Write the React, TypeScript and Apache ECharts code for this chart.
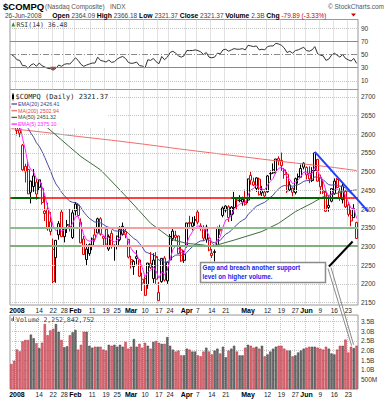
import React, { useEffect, useRef } from 'react';
import * as echarts from 'echarts';

const FONT = 'Liberation Sans, Arial, sans-serif';
const MONO = 'DejaVu Sans Mono, monospace';

const dates = [
  '2007-12-28', '2007-12-31',
  '2008-01-02', '2008-01-03', '2008-01-04', '2008-01-07', '2008-01-08', '2008-01-09', '2008-01-10', '2008-01-11', '2008-01-14', '2008-01-15', '2008-01-16', '2008-01-17', '2008-01-18', '2008-01-22', '2008-01-23', '2008-01-24', '2008-01-25', '2008-01-28', '2008-01-29', '2008-01-30', '2008-01-31',
  '2008-02-01', '2008-02-04', '2008-02-05', '2008-02-06', '2008-02-07', '2008-02-08', '2008-02-11', '2008-02-12', '2008-02-13', '2008-02-14', '2008-02-15', '2008-02-19', '2008-02-20', '2008-02-21', '2008-02-22', '2008-02-25', '2008-02-26', '2008-02-27', '2008-02-28', '2008-02-29',
  '2008-03-03', '2008-03-04', '2008-03-05', '2008-03-06', '2008-03-07', '2008-03-10', '2008-03-11', '2008-03-12', '2008-03-13', '2008-03-14', '2008-03-17', '2008-03-18', '2008-03-19', '2008-03-20', '2008-03-24', '2008-03-25', '2008-03-26', '2008-03-27', '2008-03-28', '2008-03-31',
  '2008-04-01', '2008-04-02', '2008-04-03', '2008-04-04', '2008-04-07', '2008-04-08', '2008-04-09', '2008-04-10', '2008-04-11', '2008-04-14', '2008-04-15', '2008-04-16', '2008-04-17', '2008-04-18', '2008-04-21', '2008-04-22', '2008-04-23', '2008-04-24', '2008-04-25', '2008-04-28', '2008-04-29', '2008-04-30',
  '2008-05-01', '2008-05-02', '2008-05-05', '2008-05-06', '2008-05-07', '2008-05-08', '2008-05-09', '2008-05-12', '2008-05-13', '2008-05-14', '2008-05-15', '2008-05-16', '2008-05-19', '2008-05-20', '2008-05-21', '2008-05-22', '2008-05-23', '2008-05-27', '2008-05-28', '2008-05-29', '2008-05-30',
  '2008-06-02', '2008-06-03', '2008-06-04', '2008-06-05', '2008-06-06', '2008-06-09', '2008-06-10', '2008-06-11', '2008-06-12', '2008-06-13', '2008-06-16', '2008-06-17', '2008-06-18', '2008-06-19', '2008-06-20', '2008-06-23', '2008-06-24', '2008-06-25', '2008-06-26',
];

const opens = [
  2671, 2664, 2653, 2611, 2571, 2514, 2506, 2445, 2460, 2472,
  2458, 2455, 2388, 2400, 2366, 2206, 2270, 2331, 2392, 2326,
  2357, 2353, 2324, 2395, 2410, 2365, 2320, 2265, 2281, 2303,
  2331, 2336, 2374, 2327, 2346, 2293, 2335, 2300, 2302, 2318,
  2332, 2340, 2319, 2265, 2246, 2268, 2264, 2202, 2214, 2197,
  2255, 2214, 2273, 2155, 2206, 2269, 2208, 2264, 2321, 2330,
  2328, 2291, 2263, 2300, 2364, 2354, 2371, 2392, 2355, 2351,
  2319, 2322, 2282, 2284, 2301, 2345, 2383, 2397, 2406, 2384,
  2404, 2425, 2422, 2419, 2430, 2424, 2490, 2473, 2455, 2480,
  2443, 2435, 2446, 2494, 2505, 2499, 2535, 2530, 2505, 2493,
  2451, 2456, 2444, 2486, 2485, 2512, 2511, 2496, 2476, 2503,
  2533, 2485, 2445, 2445, 2410, 2421, 2441, 2479, 2449, 2425,
  2450, 2411, 2383, 2377, 2364.09,
];
const highs = [
  2684, 2671, 2661, 2624, 2574, 2521, 2530, 2476, 2507, 2480,
  2480, 2470, 2436, 2417, 2392, 2321, 2317, 2368, 2398, 2350,
  2371, 2400, 2397, 2419, 2415, 2375, 2328, 2307, 2308, 2324,
  2348, 2377, 2378, 2327, 2347, 2332, 2343, 2305, 2329, 2354,
  2364, 2348, 2320, 2275, 2264, 2290, 2265, 2230, 2220, 2256,
  2285, 2282, 2285, 2205, 2269, 2274, 2259, 2333, 2347, 2342,
  2329, 2300, 2289, 2363, 2382, 2379, 2381, 2397, 2362, 2357,
  2358, 2324, 2293, 2292, 2353, 2358, 2407, 2410, 2410, 2408,
  2446, 2429, 2437, 2433, 2452, 2481, 2501, 2484, 2485, 2484,
  2462, 2452, 2491, 2503, 2522, 2534, 2541, 2551, 2510, 2502,
  2474, 2458, 2484, 2495, 2519, 2525, 2514, 2514, 2512, 2552,
  2534, 2492, 2479, 2449, 2436, 2455, 2482, 2483, 2456, 2470,
  2450, 2416, 2398, 2413, 2366.18,
];
const lows = [
  2650, 2650, 2597, 2592, 2502, 2471, 2440, 2415, 2446, 2425,
  2448, 2412, 2368, 2342, 2330, 2202, 2203, 2318, 2325, 2311,
  2336, 2340, 2320, 2383, 2381, 2309, 2277, 2249, 2275, 2290,
  2313, 2336, 2329, 2299, 2302, 2288, 2294, 2262, 2292, 2314,
  2329, 2322, 2268, 2241, 2224, 2252, 2219, 2181, 2168, 2187,
  2240, 2202, 2200, 2155, 2203, 2206, 2200, 2264, 2315, 2314,
  2280, 2259, 2256, 2297, 2349, 2343, 2355, 2359, 2342, 2315,
  2310, 2287, 2269, 2260, 2301, 2331, 2378, 2391, 2366, 2368,
  2386, 2398, 2418, 2409, 2409, 2416, 2465, 2461, 2446, 2436,
  2435, 2431, 2444, 2478, 2494, 2494, 2517, 2502, 2481, 2443,
  2448, 2434, 2439, 2468, 2484, 2506, 2479, 2469, 2472, 2500,
  2474, 2440, 2440, 2393, 2393, 2418, 2438, 2456, 2422, 2415,
  2403, 2380, 2354, 2377, 2321.37,
];
const closes = [
  2674.46, 2652.28, 2609.63, 2602.68, 2504.65, 2499.46, 2440.51, 2474.55, 2488.52, 2439.94,
  2478.30, 2417.59, 2394.59, 2346.90, 2340.02, 2292.27, 2316.41, 2360.92, 2326.20, 2349.91,
  2358.06, 2349.00, 2389.86, 2413.36, 2382.85, 2309.57, 2278.75, 2293.03, 2304.85, 2320.06,
  2320.04, 2373.93, 2332.54, 2321.80, 2306.20, 2327.10, 2299.78, 2303.35, 2327.48, 2344.99,
  2353.78, 2331.57, 2271.48, 2258.60, 2260.28, 2272.81, 2220.50, 2212.49, 2169.34, 2255.76,
  2243.87, 2263.61, 2212.49, 2177.01, 2268.26, 2209.96, 2258.11, 2326.75, 2341.05, 2324.36,
  2280.83, 2261.18, 2279.10, 2362.75, 2361.40, 2363.30, 2370.98, 2364.83, 2348.76, 2322.12,
  2351.70, 2290.24, 2275.82, 2286.04, 2350.11, 2341.83, 2402.97, 2408.04, 2376.94, 2405.21,
  2428.92, 2422.93, 2424.40, 2426.11, 2412.80, 2480.71, 2476.99, 2464.10, 2483.31, 2438.49,
  2451.24, 2445.52, 2488.49, 2495.12, 2496.70, 2533.73, 2528.85, 2516.09, 2492.26, 2448.27,
  2464.58, 2444.67, 2481.24, 2486.70, 2508.32, 2522.66, 2491.53, 2480.48, 2503.14, 2549.94,
  2474.56, 2459.46, 2448.94, 2394.01, 2404.35, 2454.50, 2474.78, 2457.73, 2429.71, 2462.07,
  2406.09, 2385.74, 2368.28, 2401.26, 2321.37,
];
const prevClose = 2676.79;

// volume in billions of shares
const volumes = [
  1.30, 1.47, 2.06, 1.96, 2.48, 2.55, 2.55, 2.83, 2.64, 2.38,
  2.13, 2.41, 3.38, 2.80, 3.05, 3.13, 3.38, 2.98, 2.55, 2.17,
  2.22, 2.80, 2.95, 3.07, 2.05, 2.30, 2.98, 2.98, 2.25, 2.15,
  2.20, 2.20, 2.20, 2.05, 2.00, 2.30, 2.25, 2.30, 2.20, 2.30,
  2.20, 2.45, 2.10, 2.20, 2.60, 2.20, 2.35, 2.15, 2.40, 2.25,
  2.10, 2.45, 2.50, 2.40, 2.35, 2.35, 2.70, 2.25, 2.05, 1.95,
  2.00, 1.75, 1.75, 2.10, 2.05, 1.95, 1.95, 1.75, 1.70, 1.95,
  2.15, 1.95, 1.80, 2.00, 2.10, 1.85, 2.20, 1.65, 2.00, 2.10,
  2.25, 1.95, 1.75, 1.75, 2.15, 2.30, 2.25, 2.15, 2.20, 2.10,
  2.25, 1.70, 1.80, 1.95, 2.10, 2.20, 2.25, 2.25, 2.10, 2.00,
  2.00, 1.70, 1.75, 1.90, 2.00, 2.10, 2.15, 2.20, 2.20, 2.20,
  2.15, 2.10, 2.05, 2.20, 2.10, 1.85, 1.80, 2.05, 2.25, 2.25,
  2.57, 1.90, 2.20, 2.13, 2.2528,
];

const rsi14 = [
  50, 47, 42, 41, 33, 33, 29, 34, 36, 32,
  37, 33, 31, 29, 28.5, 26.5, 29, 34, 32, 35,
  36, 35.5, 40, 45, 41, 35, 32, 34, 35.5, 37,
  37, 46, 41, 40, 38.5, 41.5, 38, 39, 43, 45.5,
  47, 44, 38, 36.5, 37, 38.5, 33, 32.5, 29.5, 42,
  41, 44, 39, 36, 47, 42, 46, 53, 55, 52,
  48, 46, 48, 56, 56, 56, 57, 56, 54, 50,
  53, 46, 45, 46, 52, 51, 57, 58, 55, 57,
  59, 58, 58, 59, 57, 64, 63, 62, 63, 57,
  58, 57, 62, 63, 63, 67, 66, 64, 60, 53,
  55, 52, 56, 57, 59, 61, 56, 55, 57, 62,
  51, 49, 48, 41, 43, 49, 52, 49, 46, 50,
  44, 42, 40, 44, 36.48,
];

const ema5 = [
  2670, 2664, 2646, 2632, 2589, 2559, 2520, 2505, 2499, 2480,
  2479, 2459, 2437, 2407, 2385, 2354, 2342, 2348, 2341, 2344,
  2349, 2349, 2362, 2379, 2381, 2357, 2331, 2318, 2314, 2316,
  2317, 2336, 2335, 2331, 2322, 2324, 2316, 2312, 2317, 2326,
  2336, 2334, 2313, 2295, 2284, 2280, 2260, 2244, 2219, 2231,
  2236, 2245, 2234, 2215, 2233, 2225, 2236, 2266, 2291, 2302,
  2295, 2284, 2282, 2309, 2327, 2339, 2350, 2355, 2353, 2343,
  2346, 2327, 2310, 2302, 2318, 2326, 2352, 2371, 2373, 2384,
  2399, 2407, 2413, 2417, 2416, 2437, 2451, 2455, 2465, 2456,
  2454, 2451, 2464, 2474, 2482, 2499, 2509, 2511, 2505, 2486,
  2479, 2468, 2472, 2477, 2487, 2499, 2497, 2491, 2495, 2513,
  2501, 2487, 2474, 2448, 2433, 2440, 2452, 2454, 2446, 2451,
  2436, 2419, 2402, 2402, 2375.10,
];

const ema20 = [
  2680, 2677, 2671, 2664, 2649, 2635, 2616, 2603, 2592, 2577,
  2568, 2554, 2538, 2520, 2503, 2483, 2467, 2457, 2445, 2436,
  2428, 2421, 2418, 2417, 2414, 2404, 2392, 2383, 2375, 2370,
  2365, 2366, 2363, 2359, 2354, 2351, 2347, 2342, 2341, 2341,
  2343, 2342, 2335, 2328, 2321, 2317, 2308, 2299, 2286, 2283,
  2280, 2278, 2272, 2263, 2263, 2258, 2258, 2265, 2272, 2277,
  2277, 2276, 2276, 2284, 2292, 2299, 2305, 2311, 2315, 2315,
  2319, 2316, 2312, 2310, 2314, 2316, 2325, 2333, 2337, 2343,
  2351, 2358, 2365, 2370, 2374, 2385, 2393, 2400, 2408, 2411,
  2415, 2418, 2424, 2431, 2437, 2447, 2454, 2460, 2463, 2462,
  2462, 2461, 2463, 2465, 2469, 2474, 2476, 2476, 2479, 2486,
  2485, 2482, 2479, 2471, 2465, 2464, 2465, 2464, 2461, 2461,
  2456, 2449, 2441, 2438, 2426.41,
];

const ma50Dates = ['2007-12-28', '2008-01-08', '2008-01-17', '2008-01-29', '2008-02-05', '2008-02-14', '2008-02-26', '2008-03-04', '2008-03-12', '2008-03-18', '2008-03-25', '2008-04-01', '2008-04-08', '2008-04-14', '2008-04-24', '2008-05-08', '2008-05-16', '2008-05-27', '2008-06-04', '2008-06-10', '2008-06-19', '2008-06-26'];
const ma50Values = [2684, 2655, 2617, 2572, 2540, 2505, 2451, 2411, 2362, 2340, 2318, 2308, 2305, 2300, 2317, 2340, 2362, 2393, 2416, 2433, 2446, 2451.32];

const ma200Dates = ['2007-12-28', '2008-01-16', '2008-02-04', '2008-02-21', '2008-03-10', '2008-03-27', '2008-04-14', '2008-04-30', '2008-05-16', '2008-06-04', '2008-06-16', '2008-06-26'];
const ma200Values = [2615, 2605, 2594, 2584, 2573, 2561, 2550, 2539, 2528, 2518, 2511, 2502.94];

const labelDates = ['2008-01-02', '2008-01-14', '2008-01-22', '2008-01-28', '2008-02-01', '2008-02-11', '2008-02-19', '2008-02-25', '2008-03-03', '2008-03-10', '2008-03-17', '2008-03-24', '2008-04-01', '2008-04-07', '2008-04-14', '2008-04-21', '2008-05-01', '2008-05-12', '2008-05-19', '2008-05-27', '2008-06-02', '2008-06-09', '2008-06-16', '2008-06-23'];
const labelTexts = ['2008', '14', '22', '28', 'Feb', '11', '19', '25', 'Mar', '10', '17', '24', 'Apr', '7', '14', '21', 'May', '12', '19', '27', 'Jun', '9', '16', '23'];
const boldLabels = ['2008', 'Feb', 'Mar', 'Apr', 'May', 'Jun'];

const priceTicks = [2150, 2200, 2250, 2300, 2350, 2400, 2450, 2500, 2550, 2600, 2650, 2700];
const rsiTicks = [10, 30, 50, 70, 90];

const resistanceLevel = 2430;
const supportMid = 2351;
const supportLow = 2302;
const greenSegments = [['2007-12-28', '2008-01-14'], ['2008-04-23', '2008-06-19']];
const pinkMidSegment = ['2008-02-04', '2008-04-16'];
const pinkLowSegment = ['2008-02-05', '2008-03-24'];
const trendStart: [string, number] = ['2008-06-05', 2553];
const trendEnd: [string, number] = ['2008-06-26', 2428];

function sparse(ds: string[], vs: number[]) {
  const m = new Map(ds.map((d, i) => [d, vs[i]]));
  return dates.map((d) => (m.has(d) ? m.get(d)! : null));
}

export default function App() {
  const ref = useRef<HTMLDivElement>(null);
  useEffect(() => {
    const el = ref.current!;
    const chart = echarts.init(el, null, { renderer: 'svg' });
    const labelMap = new Map(labelDates.map((d, j) => [d, labelTexts[j]]));

    const xAxis = (g: number, show: boolean) => ({
      type: 'category', gridIndex: g, data: dates, boundaryGap: true,
      axisLine: { show: false }, axisTick: { show: false },
      axisLabel: show ? {
        show: true, hideOverlap: false,
        interval: (_i: number, v: string) => labelMap.has(v),
        formatter: (v: string) => {
          const t = labelMap.get(v) || '';
          return boldLabels.includes(t) ? `{b|${t}}` : t;
        },
        fontSize: 6.5, color: '#222', margin: 2, fontFamily: FONT,
        rich: { b: { fontWeight: 'bold', fontSize: 7, color: '#000', fontFamily: FONT } },
      } : { show: false },
      splitLine: { show: true, interval: (_i: number, v: string) => labelMap.has(v), lineStyle: { type: 'dotted', color: '#c4c4c4', width: 1 } },
    });

    const tickLabel = { show: true, position: 'end', distance: 3, color: '#333', fontSize: 6.5, fontFamily: FONT };
    const dotted = { type: 'dotted', color: '#c4c4c4', width: 1 };

    const candleData = dates.map((_d, i) => {
      const prev = i === 0 ? prevClose : closes[i - 1];
      const col = closes[i] >= prev ? '#000000' : '#dd0000';
      return { value: [opens[i], closes[i], lows[i], highs[i]], itemStyle: { color: '#ffffff', color0: col, borderColor: col, borderColor0: col, borderWidth: 1 } };
    });
    const volData = dates.map((_d, i) => {
      const prev = i === 0 ? prevClose : closes[i - 1];
      const up = closes[i] >= prev;
      return { value: volumes[i], itemStyle: { color: up ? '#6e6e6e' : '#d5707a', borderColor: up ? '#3c3c3c' : '#c02030', borderWidth: 0.5 } };
    });
    const nulls = dates.map(() => null);

    const seg = (a: string[], level: number, color: string, width: number) => [
      { coord: [a[0], level], lineStyle: { color, width, type: 'solid' }, label: { show: false } },
      { coord: [a[1], level] },
    ];

    const option: any = {
      animation: false,
      backgroundColor: '#ffffff',
      textStyle: { fontFamily: FONT },
      grid: [
        { left: 10, width: 348, top: 19.5, height: 70, show: true, borderColor: '#999', borderWidth: 1, backgroundColor: 'transparent', containLabel: false, outerBoundsMode: 'none' },
        { left: 10, width: 348, top: 89.5, height: 215.5, show: true, borderColor: '#999', borderWidth: 1, backgroundColor: 'transparent', containLabel: false, outerBoundsMode: 'none' },
        { left: 10, width: 348, top: 315, height: 74, show: true, borderColor: '#999', borderWidth: 1, backgroundColor: 'transparent', containLabel: false, outerBoundsMode: 'none' },
      ],
      xAxis: [xAxis(0, false), xAxis(1, true), xAxis(2, true)],
      yAxis: [
        { type: 'value', gridIndex: 0, position: 'right', min: -3.2, max: 103.2, axisLabel: { show: false }, splitLine: { show: false }, axisLine: { show: false }, axisTick: { show: false } },
        { type: 'value', gridIndex: 1, position: 'right', min: 2143.5, max: 2719.6, axisLabel: { show: false }, splitLine: { show: false }, axisLine: { show: false }, axisTick: { show: false } },
        {
          type: 'value', gridIndex: 2, position: 'right', min: 0, max: 3.85, interval: 0.5,
          axisLine: { show: false }, axisTick: { show: false },
          axisLabel: {
            fontSize: 6.5, color: '#333', margin: 3, fontFamily: FONT,
            formatter: (v: number) => {
              if (v <= 0.01 || v > 3.6) return '';
              const r = Math.round(v * 2) / 2;
              if (Math.abs(r - v) > 0.01) return '';
              return r === 0.5 ? '500M' : r.toFixed(1) + 'B';
            },
          },
          splitLine: { show: true, lineStyle: dotted },
        },
      ],
      series: [
        {
          type: 'line', xAxisIndex: 0, yAxisIndex: 0, data: nulls, z: 1, silent: true, symbol: 'none',
          markLine: {
            silent: true, symbol: ['none', 'none'], animation: false,
            data: rsiTicks.map((v) => ({
              yAxis: v,
              lineStyle: v === 30 || v === 70 ? { type: 'solid', color: '#8a8a8a', width: 1 } : v === 50 ? { type: [6, 2, 1, 2], color: '#8a8a8a', width: 1 } : dotted,
              label: { ...tickLabel, formatter: String(v) },
            })),
          },
        },
        {
          type: 'line', name: 'RSI(14)', xAxisIndex: 0, yAxisIndex: 0, data: rsi14, symbol: 'none', z: 3,
          lineStyle: { color: '#333333', width: 1 },
          markPoint: {
            silent: true, symbol: 'triangle', symbolRotate: 180, symbolSize: [6, 4], label: { show: false },
            itemStyle: { color: '#a04848' },
            data: [{ coord: [dates[15], 28.2] }],
          },
        },
        {
          type: 'line', xAxisIndex: 1, yAxisIndex: 1, data: nulls, z: 1, silent: true, symbol: 'none',
          markLine: {
            silent: true, symbol: ['none', 'none'], animation: false,
            data: priceTicks.map((v) => ({ yAxis: v, lineStyle: dotted, label: { ...tickLabel, formatter: String(v) } })),
          },
        },
        {
          type: 'candlestick', name: '$COMPQ', xAxisIndex: 1, yAxisIndex: 1, data: candleData, barWidth: 2.5, z: 2,
        },
        { type: 'line', name: 'MA(200)', xAxisIndex: 1, yAxisIndex: 1, data: sparse(ma200Dates, ma200Values), connectNulls: true, symbol: 'none', z: 3, lineStyle: { color: '#f26d6d', width: 1 } },
        { type: 'line', name: 'MA(50)', xAxisIndex: 1, yAxisIndex: 1, data: sparse(ma50Dates, ma50Values), connectNulls: true, symbol: 'none', z: 3, lineStyle: { color: '#3d6e3d', width: 1 } },
        { type: 'line', name: 'EMA(20)', xAxisIndex: 1, yAxisIndex: 1, data: ema20, symbol: 'none', z: 3, lineStyle: { color: '#4a4aa8', width: 1 } },
        { type: 'line', name: 'EMA(5)', xAxisIndex: 1, yAxisIndex: 1, data: ema5, symbol: 'none', z: 3, lineStyle: { color: '#ff22ff', width: 1 } },
        {
          type: 'line', xAxisIndex: 1, yAxisIndex: 1, data: nulls, z: 4, silent: true, symbol: 'none',
          markLine: {
            silent: true, symbol: ['none', 'none'], animation: false,
            data: [
              { yAxis: supportLow, lineStyle: { color: '#7fae7f', width: 2, type: 'solid' }, label: { show: false } },
              { yAxis: supportMid, lineStyle: { color: '#8dbb8d', width: 2, type: 'solid' }, label: { show: false } },
              { yAxis: resistanceLevel, lineStyle: { color: '#ff0000', width: 1.5, type: 'solid' }, label: { show: false } },
              seg(pinkMidSegment, supportMid, '#f4a0a0', 2),
              seg(pinkLowSegment, supportLow, '#f4a0a0', 2),
              ...greenSegments.map((s) => seg(s, resistanceLevel, '#006600', 2)),
            ],
          },
        },
        { type: 'bar', name: 'Volume', xAxisIndex: 2, yAxisIndex: 2, data: volData, barWidth: 2.3, z: 2 },
      ],
    };
    chart.setOption(option);

    const px = (g: number, d: string, v: number) => chart.convertToPixel({ gridIndex: g } as any, [d, v]) as number[];
    const a = px(1, trendStart[0], trendStart[1]);
    const b = px(1, trendEnd[0], trendEnd[1]);
    const ext = 1.28;
    const tEnd = [a[0] + (b[0] - a[0]) * ext, a[1] + (b[1] - a[1]) * ext];
    const candleTip = px(1, dates[dates.length - 1], lows[lows.length - 1]);
    const volTip = px(2, dates[dates.length - 1], volumes[volumes.length - 1]);

    const txt = (x: number, y: number, text: string, o: any = {}) => ({
      type: 'text', x, y, z: 60, silent: true,
      style: { text, fontSize: 6.5, fontFamily: FONT, fill: '#333', verticalAlign: 'middle', ...o },
    });
    const ln = (x1: number, y1: number, x2: number, y2: number, stroke: string, lineWidth: number) => ({
      type: 'line', z: 60, silent: true, shape: { x1, y1, x2, y2 }, style: { stroke, lineWidth },
    });

    const graphics: any[] = [
      txt(3, 6, '$COMPQ', { fontSize: 9.5, fontWeight: 'bold', fill: '#000' }),
      txt(45, 6.5, '(Nasdaq Composite)', { fill: '#555' }),
      txt(110, 6.5, 'INDX', { fill: '#555' }),
      txt(384, 6.5, '© StockCharts.com', { fill: '#555', align: 'right' }),
      {
        type: 'text', x: 5, y: 15, z: 60, silent: true,
        style: {
          text: '{n|26-Jun-2008}      {b|Open} {n|2364.09} {b|High} {n|2366.18} {b|Low} {n|2321.37} {b|Close} {n|2321.37} {b|Volume} {n|2.3B} {b|Chg} {r|-79.89 (-3.33%)}',
          verticalAlign: 'middle', fontSize: 6.5, fontFamily: FONT, fill: '#333',
          rich: {
            n: { fontSize: 6.5, fontFamily: FONT, fill: '#444' },
            b: { fontSize: 6.8, fontFamily: FONT, fontWeight: 'bold', fill: '#000' },
            r: { fontSize: 6.5, fontFamily: FONT, fill: '#cc0000' },
          },
        },
      },
      { type: 'polygon', z: 60, silent: true, shape: { points: [[351, 13.5], [356, 13.5], [353.5, 16.5]] }, style: { fill: '#cc0000' } },
      { type: 'polygon', z: 60, silent: true, shape: { points: [[11.5, 26.5], [15, 26.5], [13.25, 22]] }, style: { fill: '#2e8b2e' } },
      txt(16.5, 24.5, 'RSI(14) 36.48', { fontFamily: MONO, fill: '#333' }),
      { type: 'rect', z: 55, silent: true, shape: { x: 10.5, y: 90, width: 98, height: 38 }, style: { fill: '#ffffff' } },
      { type: 'rect', z: 60, silent: true, shape: { x: 12, y: 94.5, width: 2, height: 4.5 }, style: { fill: '#000' } },
      ln(13, 93, 13, 100.5, '#000', 0.8),
      txt(15.5, 97, '$COMPQ (Daily) 2321.37', { fontFamily: MONO, fontSize: 7, fill: '#222' }),
      ln(11.5, 104, 17, 104, '#4a4aa8', 1.3),
      txt(18, 104, 'EMA(20) 2426.41', { fontSize: 5.3, fill: '#3b3b8a' }),
      ln(11.5, 110.7, 17, 110.7, '#f26d6d', 1.3),
      txt(18, 110.7, 'MA(200) 2502.94', { fontSize: 5.3, fill: '#e04a4a' }),
      ln(11.5, 117.4, 17, 117.4, '#3d6e3d', 1.3),
      txt(18, 117.4, 'MA(50) 2451.32', { fontSize: 5.3, fill: '#2d4d2d' }),
      ln(11.5, 124.1, 17, 124.1, '#ff22ff', 1.3),
      txt(18, 124.1, 'EMA(5) 2375.10', { fontSize: 5.3, fill: '#ff22ff' }),
      { type: 'rect', z: 60, silent: true, shape: { x: 11.5, y: 318, width: 1, height: 3 }, style: { fill: '#555' } },
      { type: 'rect', z: 60, silent: true, shape: { x: 13, y: 316.5, width: 1, height: 4.5 }, style: { fill: '#555' } },
      txt(16, 319.5, 'Volume 2,252,842,752', { fontFamily: MONO, fill: '#444' }),
      ln(a[0], a[1], tEnd[0], tEnd[1], '#1f3fff', 2),
      ln(328, 268.5, volTip[0] - 5, volTip[1], '#8a8a8a', 1),
      ln(331, 267.5, volTip[0] - 3, volTip[1] - 1, '#8a8a8a', 1),
      ln(329, 266.5, candleTip[0] - 4, candleTip[1] + 3, '#000000', 2),
      { type: 'rect', z: 61, silent: true, shape: { x: 200.5, y: 262.5, width: 125, height: 20 }, style: { fill: '#ffffff', stroke: '#8c8c8c', lineWidth: 1.5 } },
      { type: 'text', x: 202.5, y: 267.5, z: 62, silent: true, style: { text: 'Gap and breach another support', fontSize: 6.3, fontWeight: 'bold', fontFamily: FONT, fill: '#1a1aee', verticalAlign: 'middle' } },
      { type: 'text', x: 202.5, y: 276.5, z: 62, silent: true, style: { text: 'level on higher volume.', fontSize: 6.3, fontWeight: 'bold', fontFamily: FONT, fill: '#1a1aee', verticalAlign: 'middle' } },
    ];
    chart.setOption({ graphic: graphics });

    return () => chart.dispose();
  }, []);

  return <div ref={ref} style={{ position: 'fixed', left: 0, top: 0, width: 388, height: 400, background: '#fff' }} />;
}
